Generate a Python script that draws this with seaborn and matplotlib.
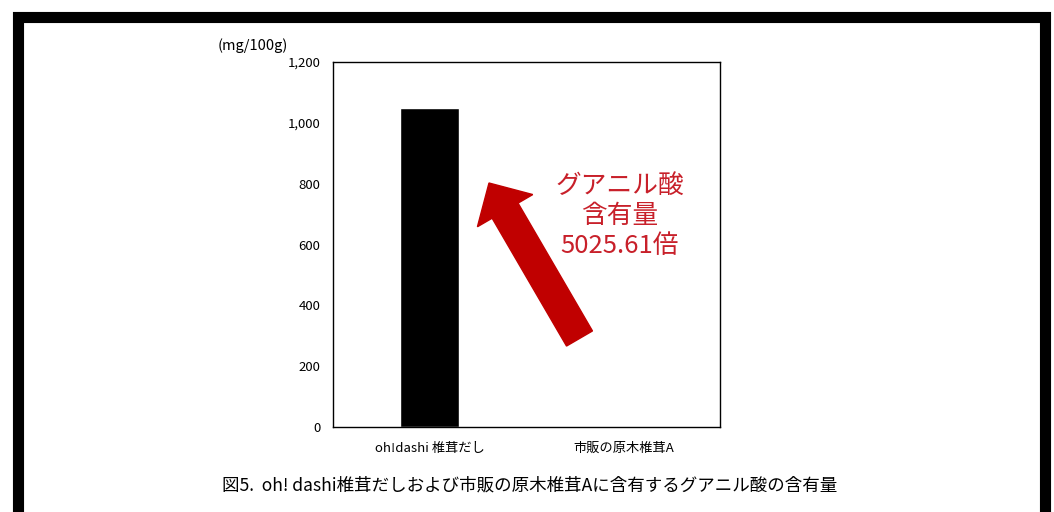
import matplotlib
matplotlib.use("Agg")
import matplotlib.pyplot as plt
import matplotlib.patches as mpatches
import matplotlib.transforms as mtrans
import seaborn as sns

categories = ["oh!dashi 椎茸だし", "市販の原木椎茸A"]
values = [1048, 0.21]
y_ticks = [0, 200, 400, 600, 800, 1000, 1200]
y_tick_labels = ["0", "200", "400", "600", "800", "1,000", "1,200"]
unit_label = "(mg/100g)"
note_text = "グアニル酸\n含有量\n5025.61倍"
caption = "図5.  oh! dashi椎茸だしおよび市販の原木椎茸Aに含有するグアニル酸の含有量"

sns.set_theme(style="white")
plt.rcParams["font.family"] = ["Noto Sans CJK JP", "DejaVu Sans"]
plt.rcParams["text.color"] = "black"
plt.rcParams["xtick.color"] = "black"
plt.rcParams["ytick.color"] = "black"

W, H = 1054, 512
fig = plt.figure(figsize=(W / 100, H / 100), dpi=100)
fig.patch.set_facecolor("white")

ax = fig.add_axes([333 / W, 1 - 427 / H, (720 - 333) / W, (427 - 62) / H])
sns.barplot(x=categories, y=values, color="black", saturation=1, width=0.305, ax=ax)
ax.set_xlim(-0.5, 1.5)
ax.set_ylim(0, 1200)
ax.set_yticks(y_ticks)
ax.set_yticklabels(y_tick_labels, fontsize=9.5)
ax.tick_params(axis="x", labelsize=9.5, length=0, pad=11)
ax.tick_params(axis="y", length=0, pad=9)
ax.set_xlabel("")
ax.set_ylabel("")
for s in ax.spines.values():
    s.set_visible(True)
    s.set_color("black")
    s.set_linewidth(1.0)

fig.text(218 / W, 1 - 46 / H, unit_label, fontsize=10.5, ha="left", va="center")

# Red arrow (pixel coordinates)
ident = mtrans.IdentityTransform()
x0, y0 = 579.5, H - 338.5
x1, y1 = 489, H - 183
arrow = mpatches.FancyArrow(x0, y0, x1 - x0, y1 - y0, width=30, head_width=64,
                            head_length=32, length_includes_head=True,
                            color="#C00000", transform=ident)
fig.patches.append(arrow)
arrow.set_figure(fig)

fig.text(620 / W, 1 - 216 / H, note_text, fontsize=18.5, color="#C8202A",
         ha="center", va="center", linespacing=1.22)

fig.text(530 / W, 1 - 486 / H, caption, fontsize=12.6, ha="center", va="center")

# Outer black frame
frame = mpatches.Rectangle((17.5, -20), 1027, H - 16.5 + 20, fill=False,
                           edgecolor="black", linewidth=8, transform=ident)
fig.patches.append(frame)
frame.set_figure(fig)

fig.savefig("out.png", dpi=100)
